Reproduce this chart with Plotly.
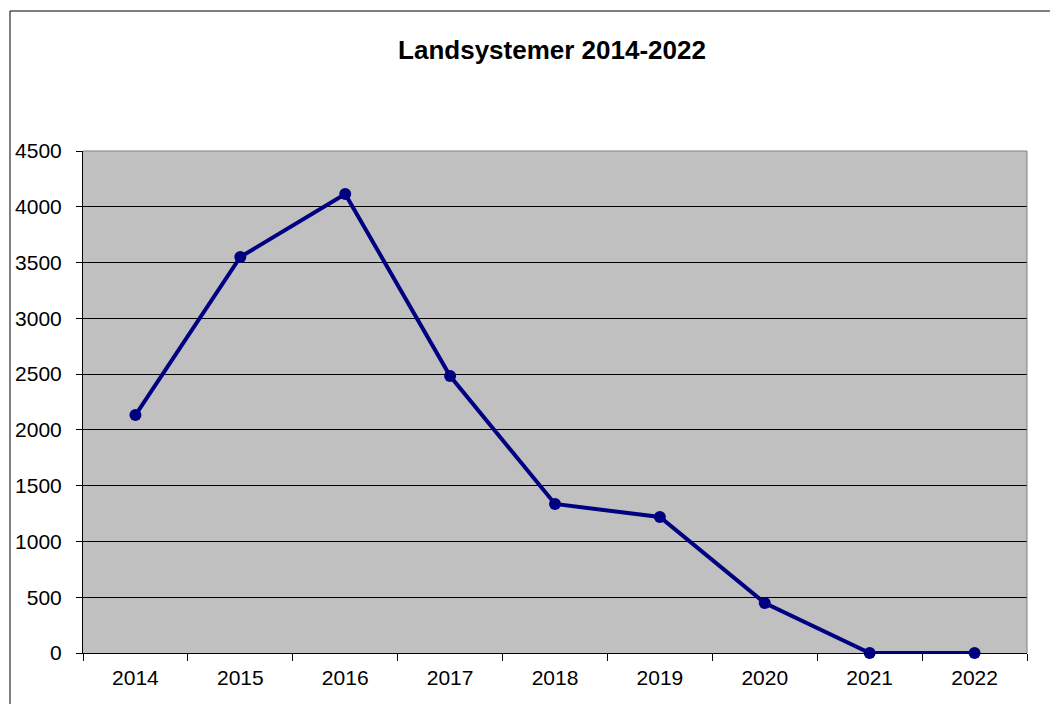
import plotly.graph_objects as go

years = ["2014", "2015", "2016", "2017", "2018", "2019", "2020", "2021", "2022"]
values = [2133, 3550, 4115, 2483, 1336, 1219, 448, 0, 0]
y_ticks = [0, 500, 1000, 1500, 2000, 2500, 3000, 3500, 4000, 4500]
title_text = "Landsystemer 2014-2022"

OFF = 8  # default body margin of the html page
W, H = 1058 - OFF, 704 - OFF
L, R, T, B = 83 - OFF, 1027 - OFF, 151 - OFF, 653 - OFF
pw, ph = R - L, B - T

def px(x):
    return (x - OFF - L) / pw

def py(y):
    return (B - (y - OFF)) / ph

fig = go.Figure()
fig.add_trace(go.Scatter(
    x=years, y=values, mode="lines+markers",
    line=dict(color="#000080", width=4),
    marker=dict(color="#000080", size=12),
    cliponaxis=False,
))

fig.update_layout(
    width=W, height=H,
    margin=dict(l=L, r=W - R, t=T, b=H - B, pad=0, autoexpand=False),
    paper_bgcolor="white",
    plot_bgcolor="#C0C0C0",
    showlegend=False,
    font=dict(family="Liberation Sans, Arial, sans-serif", color="black", size=21),
    title=dict(text="<b>" + title_text + "</b>", xref="container", yref="container",
               x=(552 - OFF) / W, xanchor="center",
               y=1 - (50 - OFF) / H, yanchor="middle",
               font=dict(size=26, family="Liberation Sans, Arial, sans-serif", color="black")),
    xaxis=dict(
        type="category", range=[-0.5, 8.5], tickson="boundaries",
        ticks="outside", ticklen=7, tickcolor="black", tickwidth=1,
        showline=True, linecolor="black", linewidth=1, automargin=False,
        showgrid=False, tickfont=dict(size=21), ticklabelstandoff=6,
    ),
    yaxis=dict(
        range=[0, 4500], tickvals=y_ticks, ticktext=[str(v) for v in y_ticks],
        ticks="outside", ticklen=6, tickcolor="black", tickwidth=1,
        showline=True, linecolor="black", linewidth=1, automargin=False,
        showgrid=True, gridcolor="black", gridwidth=1,
        zeroline=False, tickfont=dict(size=21), ticklabelstandoff=10,
    ),
    shapes=[
        dict(type="line", xref="paper", yref="paper", x0=0, x1=1, y0=1, y1=1,
             line=dict(color="#808080", width=1), layer="above"),
        dict(type="line", xref="paper", yref="paper", x0=1, x1=1, y0=0, y1=1,
             line=dict(color="#808080", width=1), layer="above"),
        dict(type="rect", xref="paper", yref="paper",
             x0=px(10), x1=px(1075), y0=py(720), y1=py(11),
             line=dict(color="black", width=1), fillcolor="rgba(0,0,0,0)", layer="above"),
    ],
)

fig.write_html("out.html")
